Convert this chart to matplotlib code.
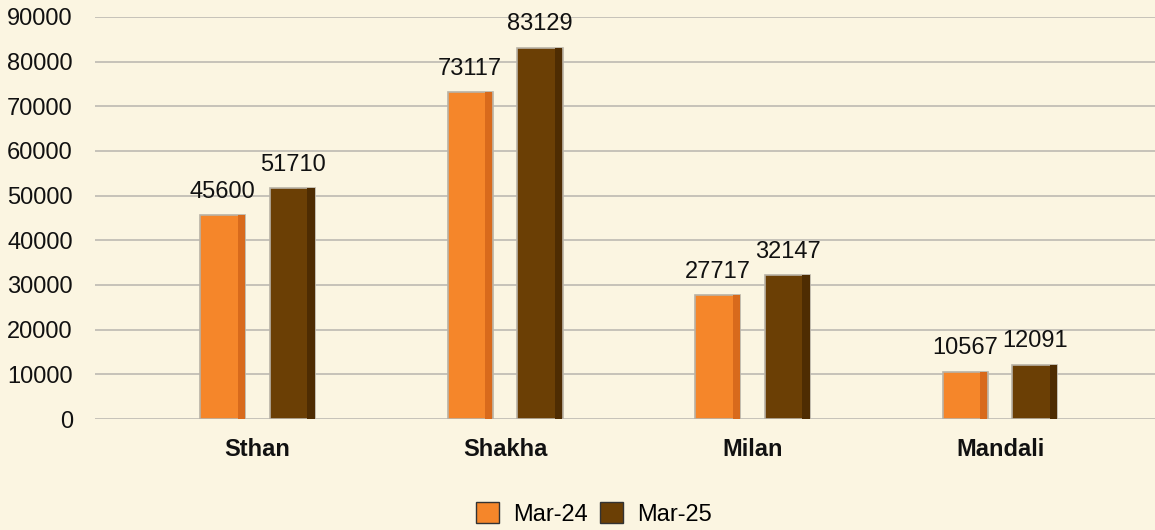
import matplotlib.pyplot as plt
import numpy as np

categories = ['Sthan', 'Shakha', 'Milan', 'Mandali']
mar_24 = [45600, 73117, 27717, 10567]
mar_25 = [51710, 83129, 32147, 12091]
series_names = ['Mar-24', 'Mar-25']
y_ticks = [0, 10000, 20000, 30000, 40000, 50000, 60000, 70000, 80000, 90000]

plt.rcParams['font.family'] = ['Liberation Sans', 'DejaVu Sans']

BG = '#FBF5E1'
ORANGE = '#F5862A'
BROWN = '#6B3F05'


def draw_bars(ax, x, values, colour, shade, label):
    '''Bars with a darker strip on the right for a flat 3D look'''
    width = 0.182
    bars = ax.bar(x, values, width, color=colour, edgecolor='#B8B2A6',
                  linewidth=1.2, label=label, zorder=3)
    # darker right edge
    ax.bar(x + width * 0.41, values, width * 0.16, color=shade,
           linewidth=0, zorder=4)
    for rect, v in zip(bars, values):
        ax.annotate(str(v), (rect.get_x() + rect.get_width() / 2, v),
                    xytext=(0, 9), textcoords='offset points',
                    ha='center', va='bottom', fontsize=17, color='#111111')
    return bars


def main():
    fig = plt.figure(figsize=(11.55, 5.3), dpi=100)
    fig.patch.set_facecolor(BG)
    ax = fig.add_axes([95 / 1155, 111 / 530, 1 - 95 / 1155, 402 / 530])
    ax.set_facecolor(BG)

    x = np.arange(len(categories))
    off = 0.141
    draw_bars(ax, x - off, mar_24, ORANGE, '#D86A1C', series_names[0])
    draw_bars(ax, x + off, mar_25, BROWN, '#4E2C02', series_names[1])

    ax.set_xlim(-0.657, 3.626)
    ax.set_ylim(0, 90000)
    ax.set_yticks(y_ticks)
    ax.set_yticklabels([str(t) for t in y_ticks], fontsize=17, color='#111111')
    ax.set_xticks(x)
    ax.set_xticklabels(categories, fontsize=17, fontweight='bold',
                       color='#111111')
    ax.tick_params(axis='y', length=0, pad=16)
    ax.tick_params(axis='x', length=0, pad=14)
    ax.yaxis.grid(True, color='#BDBAB2', linewidth=1.2, zorder=0)
    for s in ax.spines.values():
        s.set_visible(False)

    fig.legend(loc='center', bbox_to_anchor=(594 / 1155, 16 / 530), ncol=2,
               frameon=False, fontsize=17, handlelength=0.95, handleheight=0.95,
               handletextpad=0.6, columnspacing=0.55)
    for h in fig.legends[0].legend_handles:
        h.set_edgecolor('#333333')
        h.set_linewidth(1.0)

    fig.savefig('out.png', dpi=100, facecolor=BG)


if __name__ == "__main__":
    main()
